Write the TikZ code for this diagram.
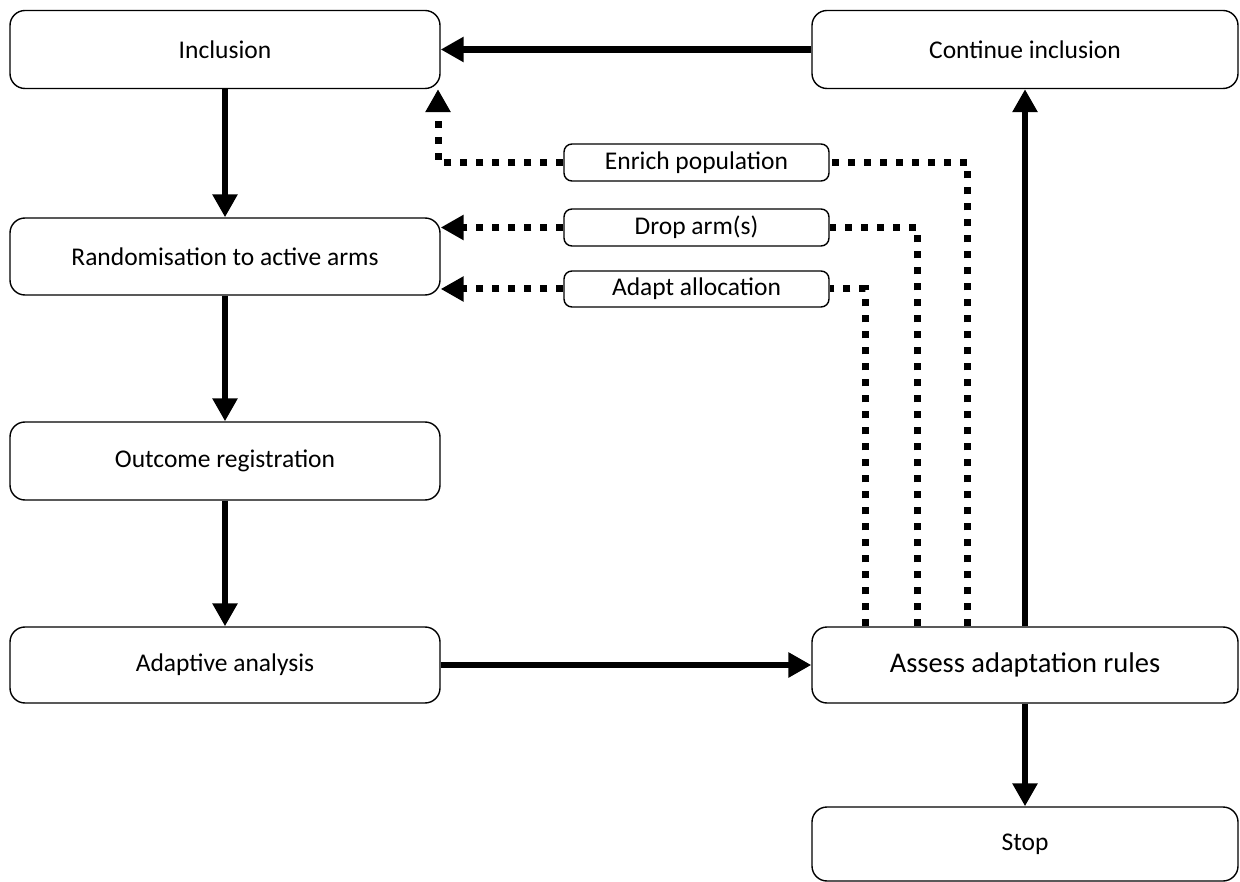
\documentclass[tikz,border=0pt]{standalone}
\usepackage{fontspec}
\setmainfont{Carlito}
\usetikzlibrary{arrows.meta}

\begin{document}
\begin{tikzpicture}[x=1pt,y=-1pt,
  box/.style={draw, line width=1.4pt, rounded corners=15pt, minimum width=430pt,
    minimum height=78pt, inner sep=0pt, font=\fontsize{25.5}{30}\selectfont},
  smallbox/.style={draw, line width=1.4pt, rounded corners=8pt, minimum width=265pt,
    minimum height=37pt, inner sep=0pt, font=\fontsize{25.5}{30}\selectfont},
  flow/.style={line width=6.5pt, -{Triangle[length=23pt,width=24pt]}},
  dotline/.style={line width=7pt, dash pattern=on 7pt off 9pt},
  dotarrow/.style={dotline, -{Triangle[length=23pt,width=24pt]}}
]
\useasboundingbox (0,0) rectangle (1240,882);

% process column
\node[box] (incl) at (225,49.5) {Inclusion};
\node[box, minimum height=77pt] (rand) at (225,256.5) {Randomisation to active arms};
\node[box] (outc) at (225,461) {Outcome registration};
\node[box, minimum height=76pt] (anal) at (225,665) {Adaptive analysis};

% decision column
\node[box, minimum width=426pt] (cont) at (1025,49.5) {Continue inclusion};
\node[box, minimum width=426pt, minimum height=76pt, font=\fontsize{28.5}{33}\selectfont] (assess) at (1025,665) {Assess adaptation rules};
\node[box, minimum width=426pt, minimum height=74pt] (stop) at (1025,844) {Stop};

% adaptation options
\node[smallbox] (enrich) at (696.5,162.5) {Enrich population};
\node[smallbox] (drop) at (696.5,227.5) {Drop arm(s)};
\node[smallbox, minimum height=36pt] (alloc) at (696.5,289) {Adapt allocation};

% main flow
\draw[flow] (incl.south) -- (rand.north);
\draw[flow] (rand.south) -- (outc.north);
\draw[flow] (outc.south) -- (anal.north);
\draw[flow] (anal.east) -- (assess.west);
\draw[flow] (assess.north) -- (cont.south);
\draw[flow] (assess.south) -- (stop.north);
\draw[flow] (cont.west) -- (incl.east);

% adaptation routes
\coordinate (eR) at (967,162.5);
\coordinate (eL) at (438,162.5);
\coordinate (dR) at (917,227.5);
\coordinate (aR) at (865,289);

\draw[dotline] (assess.north -| eR) -- (eR) -- (enrich.east);
\draw[dotarrow] (enrich.west) -- (eL) -- (eL |- incl.south);

\draw[dotline] (assess.north -| dR) -- (dR) -- (drop.east);
\draw[dotarrow] (drop.west) -- (rand.east |- drop.west);

\draw[dotline] (assess.north -| aR) -- (aR) -- (alloc.east);
\draw[dotarrow] (alloc.west) -- (rand.east |- alloc.west);
\end{tikzpicture}
\end{document}
